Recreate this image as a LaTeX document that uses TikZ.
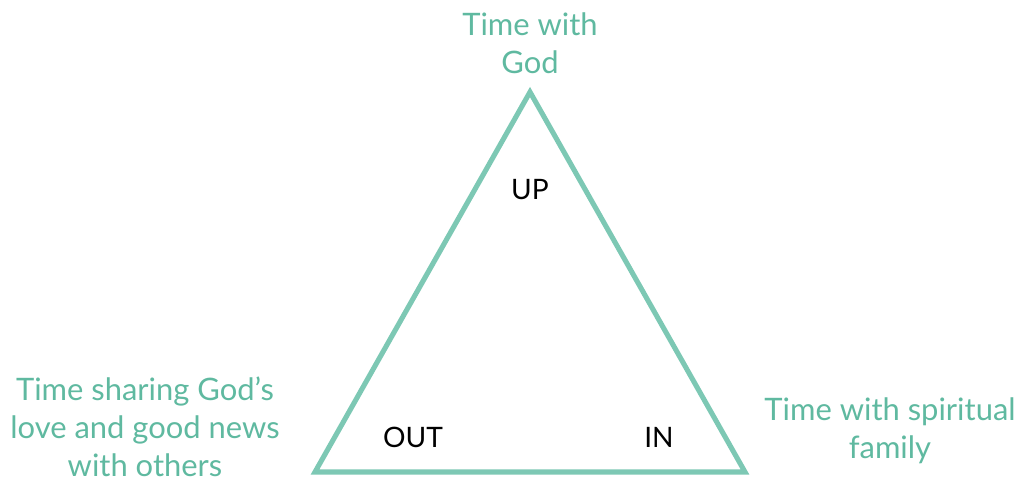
\documentclass[tikz,border=0pt]{standalone}
\usepackage{fontspec}
\setmainfont{Lato}
\usepackage{tikz}
\usetikzlibrary{positioning}
\definecolor{TealLine}{RGB}{125,200,180}
\definecolor{TealText}{RGB}{95,185,160}

\begin{document}
\begin{tikzpicture}[
    x=0.025cm, y=-0.025cm,
    label text/.style={text=TealText, font=\fontsize{22}{27}\selectfont, align=center, inner sep=0pt},
    corner text/.style={text=black, font=\fontsize{20}{24}\selectfont, inner sep=0pt},
    side/.style={draw=TealLine, line width=3.6pt, line join=miter}
]
    \useasboundingbox (0,0) rectangle (1018,481);
    % triangle corners
    \coordinate (top) at (530,92);
    \coordinate (left) at (315,472);
    \coordinate (right) at (745,472);
    \draw[side] (top) -- (left) -- (right) -- cycle;
    % corner words
    \node[corner text] (up) at (530,190) {UP};
    \node[corner text] (out) at (413,437) {OUT};
    \node[corner text] (in) at (659,437) {IN};
    % outer labels
    \node[label text] (god) at (530,43) {Time with\\God};
    \node[label text] (others) at (145,427) {Time sharing God’s\\love and good news\\with others};
    \node[label text] (family) at (890,431) {Time with spiritual\\family};
\end{tikzpicture}
\end{document}
